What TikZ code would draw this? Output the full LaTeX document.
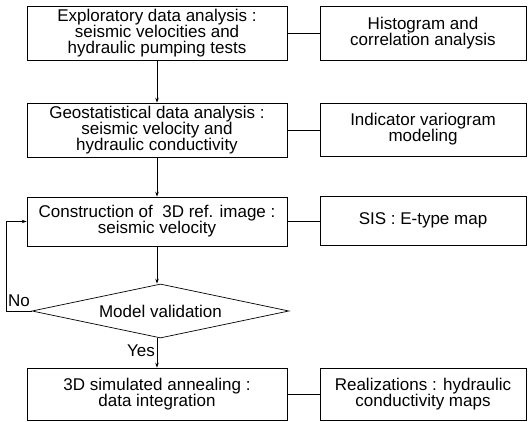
\documentclass[tikz,border=0pt]{standalone}
\usepackage{fontspec}
\setmainfont{Liberation Sans}
\usetikzlibrary{arrows.meta,shapes.geometric}
\begin{document}
\begin{tikzpicture}[x=1pt,y=-1pt,
  txt/.style={font=\fontsize{17}{16}\selectfont},
  box/.style={draw,line width=0.7pt,minimum height=#1,inner sep=0pt,align=center,txt},
  lbox/.style={box=#1,minimum width=260pt},
  rbox/.style={box=#1,minimum width=206pt},
  link/.style={line width=0.7pt},
  arr/.style={line width=0.7pt,-{Stealth[length=5pt,width=3.5pt]}},
  lab/.style={txt,inner sep=1pt}]
\useasboundingbox (0,0) rectangle (528,422);
\node[lbox=54pt] (b1) at (157,33.5) {Exploratory data analysis :\\seismic velocities and\\hydraulic pumping tests};
\node[rbox=54pt] (r1) at (423,33) {Histogram and\\correlation analysis};
\node[lbox=54pt] (b2) at (157,130) {Geostatistical data analysis :\\seismic velocity and\\hydraulic conductivity};
\node[rbox=53pt] (r2) at (423,129.5) {Indicator variogram\\modeling};
\node[lbox=49pt] (b3) at (157,221.5) {Construction of\ \ 3D ref. image :\\seismic velocity};
\node[rbox=49pt] (r3) at (423,220.5) {SIS : E-type map};
\node[draw,line width=0.7pt,diamond,aspect=4.76,minimum width=257pt,minimum height=54pt,inner sep=0pt,txt] (d) at (160.5,311) {Model validation};
\node[lbox=52pt] (b4) at (157,394) {3D simulated annealing :\\data integration};
\node[rbox=52pt] (r4) at (423,394) {Realizations : hydraulic\\conductivity maps};
\draw[link] (b1.east) -- (r1.west |- b1.east);
\draw[link] (b2.east) -- (r2.west |- b2.east);
\draw[link] (b3.east) -- (r3.west |- b3.east);
\draw[link] (b4.east) -- (r4.west |- b4.east);
\draw[arr] (b1.south) -- (b2.north);
\draw[arr] (b2.south) -- (b3.north);
\draw[arr] (b3.south) -- (d.north -| b3.south);
\draw[arr] (d.south -| b4.north) -- (b4.north);
\coordinate (c1) at (6,0);
\draw[arr] (d.west) -- (c1 |- d.west) -- (c1 |- b3.west) -- (b3.west);
\node[lab,anchor=base west] at (7,307) {No};
\node[lab,anchor=east] at (156,351) {Yes};
\end{tikzpicture}
\end{document}
